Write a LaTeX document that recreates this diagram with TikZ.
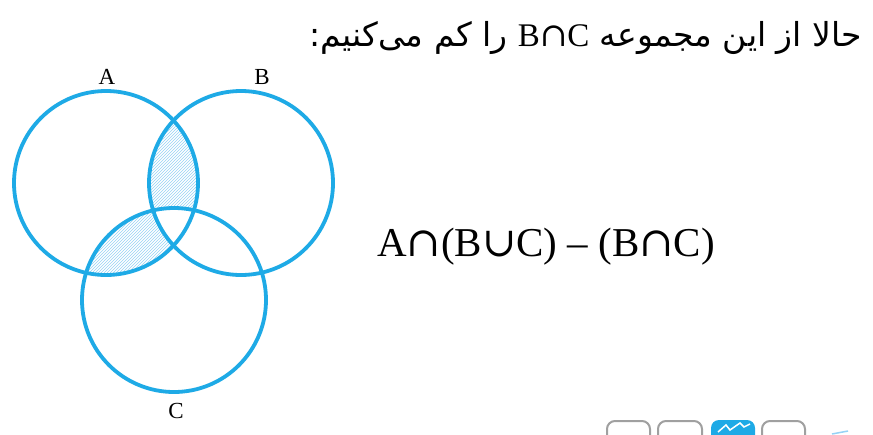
\documentclass[tikz,border=0pt]{standalone}
\usepackage{fontspec}
\usetikzlibrary{patterns}
\setmainfont{Liberation Serif}
\newfontfamily\farsi[Script=Arabic]{DejaVu Sans}
\newfontfamily\symf{DejaVu Serif}
\TeXXeTstate=1
\definecolor{venn}{RGB}{30,170,230}
\definecolor{hatchc}{RGB}{150,210,245}
\definecolor{boxgray}{RGB}{160,160,160}
\begin{document}
\begin{tikzpicture}[x=1pt,y=-1pt,
  circ/.style={draw=venn,line width=3.8pt},
  setlbl/.style={font=\fontsize{23}{24}\selectfont,inner sep=0pt},
  hatchfill/.style={pattern=north east lines,pattern color=hatchc},
  iconbox/.style={draw=boxgray,line width=2pt,rounded corners=8pt}]
\useasboundingbox (0,0) rectangle (873,434);
\fill[white] (0,0) rectangle (873,434);
\def\rr{92}
\coordinate (cA) at (106,183);
\coordinate (cB) at (241,183);
\coordinate (cC) at (174,300);
% hatched region A cap (B cup C) - (B cap C)
\begin{scope}
  \clip (cA) circle[radius=\rr];
  \fill[hatchfill] (cB) circle[radius=\rr];
  \fill[hatchfill] (cC) circle[radius=\rr];
\end{scope}
\begin{scope}
  \clip (cB) circle[radius=\rr];
  \clip (cC) circle[radius=\rr];
  \fill[white] (cA) circle[radius=\rr];
\end{scope}
\draw[circ] (cA) circle[radius=\rr];
\draw[circ] (cB) circle[radius=\rr];
\draw[circ] (cC) circle[radius=\rr];
\node[setlbl] (lA) at (107,77) {A};
\node[setlbl] (lB) at (262,77) {B};
\node[setlbl] (lC) at (176,411) {C};
% title
\node[anchor=east,inner sep=0pt,font=\farsi\fontsize{33}{36}\selectfont] (title) at (862,38)
  {\beginR حالا از این مجموعه \beginL{\rmfamily\fontsize{33}{36}\selectfont B{\symf ∩}C}\endL{} را کم می‌کنیم:\endR};
% formula
\node[anchor=west,inner sep=0pt,font=\fontsize{41}{44}\selectfont] (formula) at (377,247)
  {A{\symf ∩}(B{\symf ∪}C) – (B{\symf ∩}C)};
% partial icons at bottom
\draw[iconbox] (607,421) rectangle (650,450);
\draw[iconbox] (658,421) rectangle (702,450);
\fill[venn,rounded corners=8pt] (711,420) rectangle (755,450);
\draw[white,line width=1.5pt] (718,432) -- (726,425) -- (730,430) -- (740,423) -- (744,427) -- (750,424);
\draw[iconbox] (762,421) rectangle (805,450);
\draw[hatchc,line width=1.5pt] (832,434) -- (848,431);
\end{tikzpicture}
\end{document}
